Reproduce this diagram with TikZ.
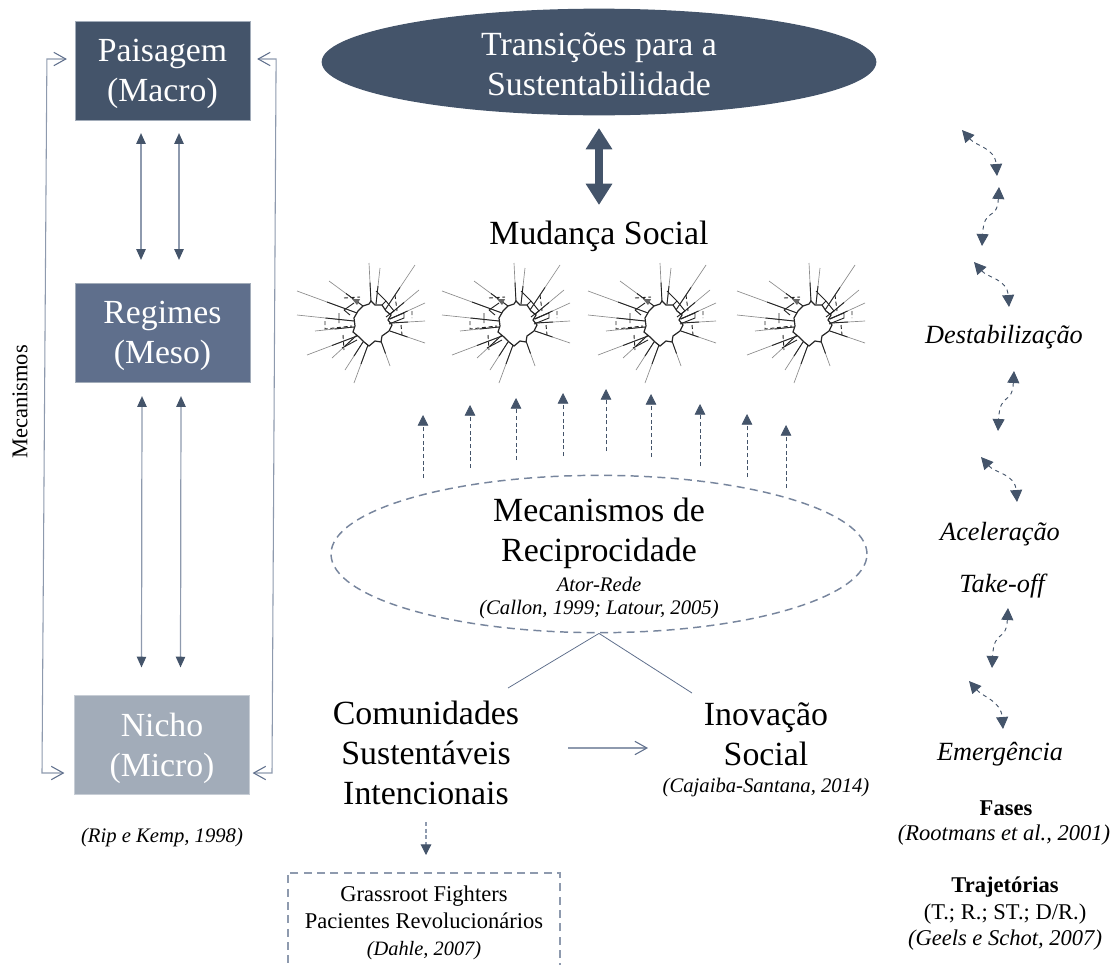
\documentclass[tikz,border=0pt]{standalone}
\usepackage{fontspec}
\setmainfont{Liberation Serif}
\usetikzlibrary{arrows.meta, shapes.geometric}
\definecolor{slate}{HTML}{44546A}
\definecolor{slatemid}{HTML}{5F6F8C}
\definecolor{slatelight}{HTML}{A2ACB9}
\definecolor{wire}{HTML}{8E9AAE}
\newcommand{\lowstrut}{\rule{0pt}{22pt}}
\tikzset{
  levelbox/.style={minimum width=131pt, minimum height=74pt, align=center, text=white, font=\fontsize{25.3}{30}\selectfont, inner sep=0pt},
  bigtext/.style={align=center, font=\fontsize{25.4}{30}\selectfont, inner sep=0pt},
  cite/.style={align=center, font=\fontsize{15.5}{17.5}\selectfont\itshape, inner sep=0pt},
  smalltext/.style={align=center, font=\fontsize{16.9}{20}\selectfont, inner sep=0pt},
  phase/.style={align=center, font=\fontsize{19.7}{23}\selectfont\itshape, inner sep=0pt},
  duplex/.style={wire, line width=.9pt, {Triangle[length=8pt,width=7pt,color=slate]}-{Triangle[length=8pt,width=7pt,color=slate]}},
  feedback/.style={wire, line width=.8pt, {Straight Barb[length=9pt,width=10pt,color=slatemid]}-{Straight Barb[length=9pt,width=10pt,color=slatemid]}},
  oneway/.style={wire, line width=.8pt, -{Straight Barb[length=9pt,width=10pt,color=slatemid]}},
  riseup/.style={slate, line width=.6pt, densely dashed, -{Triangle[length=8pt,width=8pt]}},
  dropdown/.style={wire, line width=.8pt, densely dashed, -{Triangle[length=8pt,width=8pt,color=slate]}},
  swing/.style={slate, line width=.7pt, dashed, {Triangle[length=9pt,width=9pt]}-{Triangle[length=9pt,width=9pt]}},
  crack/.style={black!45, line width=.5pt},
  crackdark/.style={black!85, line width=.7pt},
}
\begin{document}
\begin{tikzpicture}[x=.75pt, y=-.75pt]
  \useasboundingbox (0,0) rectangle (1119,964);

  % levels
  \node[levelbox, fill=slate, draw=slatelight, line width=.4pt] (macro) at (162.5,70.5) {\lowstrut Paisagem\\(Macro)};
  \node[levelbox, fill=slatemid, draw=slatelight, line width=.4pt] (meso) at (162.5,332.5) {\lowstrut Regimes\\(Meso)};
  \node[levelbox, fill=slatelight, draw=slatelight!60, line width=.4pt] (micro) at (162,745) {\lowstrut Nicho\\(Micro)};
  \node[smalltext, rotate=90] (mec) at (20,402) {Mecanismos};
  \node[cite] (rip) at (162,838) {(Rip e Kemp, 1998)};

  \foreach \dx in {-21.5, 16.5}
    \draw[duplex] ([xshift=\dx*.75pt,yshift=-13*.75pt]macro.south) -- ([xshift=\dx*.75pt,yshift=23*.75pt]meso.north);
  \foreach \dx in {-20.5, 18.5}
    \draw[duplex] ([xshift=\dx*.75pt,yshift=-14*.75pt]meso.south) -- ([xshift=\dx*.75pt,yshift=28*.75pt]micro.north);

  \draw[feedback] ([yshift=11.5*.75pt,xshift=-8*.75pt]macro.west) -- ++(-20,0) -- (42,773) -- ([yshift=-28*.75pt,xshift=-10*.75pt]micro.west);
  \draw[feedback] ([yshift=11.5*.75pt,xshift=7*.75pt]macro.east) -- ++(19,0) -- (272,773) -- ([yshift=-28*.75pt,xshift=3*.75pt]micro.east);

  % top of the centre column
  \node[ellipse, fill=slate, minimum width=416pt, minimum height=80pt, inner sep=0pt] (trans) at (599,62) {};
  \node[bigtext, text=white] (transtext) at (599,64) {Transições para a\\Sustentabilidade};
  \node[bigtext] (mudanca) at (599,236) {Mudança Social};
  \coordinate (linktop) at (599,128);
  \coordinate (linkbot) at (599,205);
  \draw[slate, line width=6pt, {Triangle[length=16pt,width=19pt]}-{Triangle[length=16pt,width=19pt]}] (linktop) -- (linkbot);

  % broken glass
  \foreach \cx in {372, 517, 663, 812} {
    \begin{scope}[shift={(\cx,323)}]
      \foreach \rx/\ry/\ex/\ey in {-1/-21/-3/-60, 4/-19/8/-55, 13/-13/43/-58, 17/-8/47/-33, 18/-4/53/-20, 19/0/53/-2, 18/8/53/20, 9/18/18/43, -4/22/-18/60, -9/19/-27/47, -15/13/-65/32, -15/12/-40/35, -18/4/-57/8, -18/-2/-75/-8, -15/-10/-75/-32, -9/-17/-43/-42} {
        \draw[crack] (\rx,\ry) -- (\ex,\ey);
        \draw[crackdark] (\rx,\ry) -- ({(\rx+\ex)/2},{(\ry+\ey)/2});
      }
      \draw[crackdark, line width=.9pt, fill=white] (-18,-5) -- (-14,-12) -- (-9,-17) -- (-3,-19) -- (-1,-22) -- (3,-18) -- (10,-18) -- (14,-12) -- (19,-8) -- (16,-3) -- (20,2) -- (17,8) -- (10,13) -- (9,19) -- (3,18) -- (-3,23) -- (-8,19) -- (-13,14) -- (-19,9) -- (-17,3) -- cycle;
      \draw[crackdark, densely dashed] (-28,-25) -- (-12,-26) (-47,-2) -- (-47,6) -- (-20,3) (-29,12) -- (-28,27) (23,-28) -- (25,-12) (40,-12) -- (40,-5) (29,2) -- (30,12);
      \draw[crackdark] (4,-32) -- (14,-22) -- (10,-18) (14,-22) -- (22,-12) -- (14,-6) (17,-4) -- (32,-10) -- (32,-5) -- (17,1) (-30,25) -- (-15,17) (-33,-10) -- (-33,0) (-28,-13) -- (-18,-20) (-28,-13) -- (-22,-8);
      \fill[black!60] (-20,-24) -- (-12,-24) -- (-15,-18) -- cycle;
    \end{scope}
  }

  % dashed arrows under the glass
  \foreach \px/\pa/\pb in {423/478/415, 470/468/405, 516/460/398, 563/456/393, 606/451/389, 651/457/394, 700/466/404, 747/477/414, 786/488/425} {
    \coordinate (rb\px) at (\px,\pa);
    \coordinate (rt\px) at (\px,\pb);
    \draw[riseup] (rb\px) -- (rt\px);
  }

  % reciprocity
  \node[ellipse, draw=slatemid!85, dash pattern=on 6pt off 4pt, line width=1.1pt, minimum width=402pt, minimum height=118pt, inner sep=0pt] (reci) at (599,554) {};
  \node[bigtext] (recitext) at (599,533) {Mecanismos de\\Reciprocidade};
  \node[cite] (ator) at (599,598) {Ator-Rede\\(Callon, 1999; Latour, 2005)};

  \node[bigtext] (comu) at (426,753) {Comunidades\\Sustentáveis\\Intencionais};
  \node[bigtext] (inov) at (766,734) {Inovação\\Social};
  \node[cite] (caja) at (766,788) {(Cajaiba-Santana, 2014)};
  \coordinate (comutop) at (508,688);
  \coordinate (inovtop) at (692,693);
  \coordinate (flowa) at (568,748);
  \coordinate (flowb) at (648,748);
  \draw[slatemid, line width=.6pt] (reci.south) -- (comutop);
  \draw[slatemid, line width=.6pt] (reci.south) -- (inovtop);
  \draw[oneway] (flowa) -- (flowb);
  \node[draw=wire, dash pattern=on 6pt off 4pt, line width=1.2pt, minimum width=204pt, minimum height=80pt, anchor=north west, inner sep=0pt] (grass) at (287,872) {};
  \node[align=center, font=\fontsize{16.9}{20.5}\selectfont, inner sep=0pt] (grasstext) at (424,923) {Grassroot Fighters\\Pacientes Revolucionários\\{\fontsize{15.3}{16}\selectfont\itshape (Dahle, 2007)}};
  \coordinate (downa) at (426,822);
  \coordinate (downb) at (426,855);
  \draw[dropdown] (downa) -- (downb);

  % phases
  \node[phase] (desta) at (1004,337) {Destabilização};
  \node[phase] (acel) at (1000,534) {Aceleração};
  \node[phase] (take) at (1002,586) {Take-off};
  \node[phase] (emer) at (1000,754) {Emergência};
  \node[smalltext, font=\fontsize{16.9}{20}\selectfont\bfseries] (fases) at (1006,808) {Fases};
  \node[smalltext, font=\fontsize{16.9}{20}\selectfont\itshape] (root) at (1004,835) {(Rootmans et al., 2001)};
  \node[smalltext, font=\fontsize{16.9}{20}\selectfont\bfseries] (traj) at (1005,887) {Trajetórias};
  \node[smalltext] (tipos) at (1005,914) {(T.; R.; ST.; D/R.)};
  \node[smalltext, font=\fontsize{16.9}{20}\selectfont\itshape] (geels) at (1005,940) {(Geels e Schot, 2007)};

  \foreach \n/\ax/\ay/\bx/\by in {1/962/130/997/176, 3/974/262/1009/307, 5/981/457/1017/502, 7/969/681/1003/729} {
    \coordinate (sa\n) at (\ax,\ay);
    \coordinate (sb\n) at (\bx,\by);
    \draw[swing] (sa\n) .. controls +(14,16) and +(-2,-28) .. (sb\n);
  }
  \foreach \n/\ax/\ay/\bx/\by in {2/999/187/982/246, 4/1014/371/998/431, 6/1008/608/992/668} {
    \coordinate (sa\n) at (\ax,\ay);
    \coordinate (sb\n) at (\bx,\by);
    \draw[swing] (sa\n) .. controls +(-2,35) and +(2,-40) .. (sb\n);
  }
\end{tikzpicture}
\end{document}
